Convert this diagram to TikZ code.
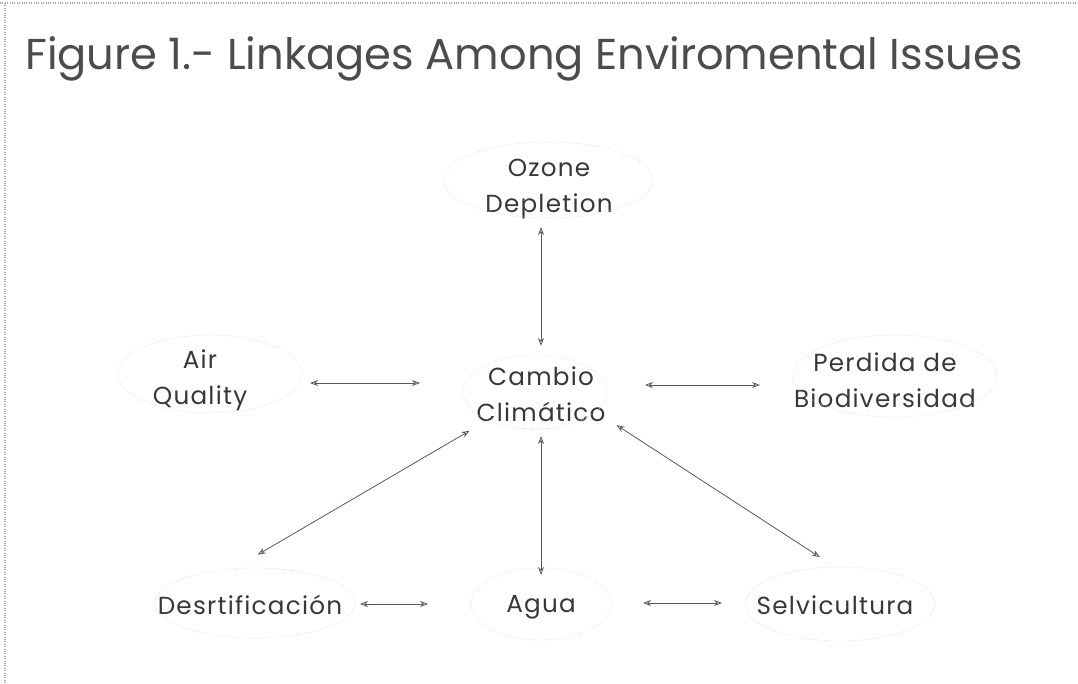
\documentclass[tikz,border=0pt]{standalone}
\usepackage{fontspec}
\setmainfont{Poppins}
\usetikzlibrary{arrows.meta,calc}
\definecolor{ink}{gray}{0.22}
\definecolor{lineink}{gray}{0.35}
\definecolor{halo}{gray}{0.87}
\tikzset{
  lbl/.style={text=ink, font=\fontsize{18.5}{27}\selectfont\addfontfeatures{LetterSpace=5}, align=center, inner sep=0pt},
  link/.style={draw=lineink, line width=0.6pt, {Stealth[length=6pt,width=4.5pt,open]}-{Stealth[length=6pt,width=4.5pt,open]}},
  haloline/.style={draw=halo, line width=0.5pt, densely dotted},
  frameline/.style={draw=gray!70, line width=0.8pt, densely dotted}
}
\begin{document}
\begin{tikzpicture}[x=0.75pt,y=-0.75pt]
\useasboundingbox (0,0) rectangle (1078,684);
\fill[white] (0,0) rectangle (1078,684);
% frame fragments
\draw[frameline] (0,3) -- (1078,3);
\draw[frameline] (5,3) -- (5,684);
% title
\node[anchor=base west, text=black!70, inner sep=0pt] (title) at (25,70)
  {\resizebox{748pt}{!}{\fontsize{30}{36}\selectfont Figure 1.- Linkages Among Enviromental Issues}};
% nodes
\node[lbl] (oz) at (549,189) {Ozone\\Depletion};
\node[lbl] (cc) at (541,394) {Cambio\\Climático};
\node[lbl] (aq) at (200,380) {Air\\Quality};
\node[lbl] (pb) at (885,380) {Perdida de\\Biodiversidad};
\node[lbl] (de) at (250,605) {Desrtificación};
\node[lbl] (ag) at (541,607) {Agua};
\node[lbl] (se) at (835,605) {Selvicultura};
% faint halos
\draw[haloline] (548,180) ellipse [x radius=105, y radius=38];
\draw[haloline] (535,392) ellipse [x radius=72, y radius=37];
\draw[haloline] (210,374) ellipse [x radius=92, y radius=39];
\draw[haloline] (895,376) ellipse [x radius=102, y radius=41];
\draw[haloline] (255,603) ellipse [x radius=100, y radius=35];
\draw[haloline] (541,604) ellipse [x radius=70, y radius=36];
\draw[haloline] (840,604) ellipse [x radius=95, y radius=37];
% connectors
\draw[link, shorten <=28.5pt, shorten >=36pt] (oz.center -| cc.center) -- (cc.center);
\draw[link, shorten <=31.5pt, shorten >=24pt] (cc.center) -- (ag.center);
\draw[link, shorten <=82.5pt, shorten >=90.75pt] (aq.center |- 0,383) -- (cc.center |- 0,383);
\draw[link, shorten <=78pt, shorten >=93.75pt] (cc.center |- 0,385) -- (pb.center |- 0,385);
\draw[link, shorten <=82.5pt, shorten >=84.75pt] (de.center |- 0,604) -- (ag.center |- 0,604);
\draw[link, shorten <=76.5pt, shorten >=84.75pt] (ag.center |- 0,603) -- (se.center |- 0,603);
\draw[link, shorten <=62pt, shorten >=5pt] ($(cc.center)+(0,-5)$) -- ($(de.center)+(2,-47)$);
\draw[link, shorten <=67.5pt, shorten >=13.5pt] ($(cc.center)+(0,-18)$) -- ($(se.center)+(0,-38)$);
\end{tikzpicture}
\end{document}
